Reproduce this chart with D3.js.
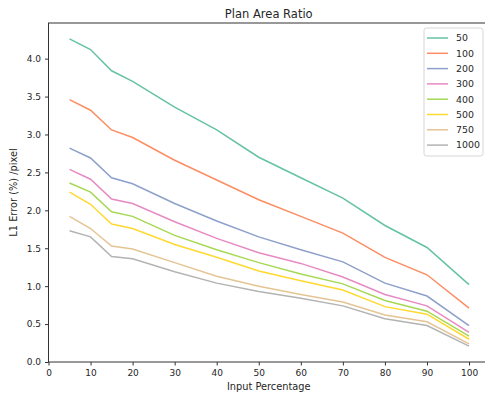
<!DOCTYPE html>
<html lang="en">
<head>
<meta charset="utf-8">
<title>Plan Area Ratio</title>
<script src="https://d3js.org/d3.v7.min.js"></script>
<style>
  body { margin: 0; background: #fff; }
  text { font-family: "DejaVu Sans", sans-serif; fill: #262626; }
</style>
</head>
<body>
<script>
// input percentages (x)
var percents = [5, 10, 15, 20, 30, 40, 50, 60, 70, 80, 90, 100];
var seriesNames = ["50", "100", "200", "300", "400", "500", "750", "1000"];

// L1 error per series
var err50   = [4.26, 4.12, 3.84, 3.70, 3.36, 3.06, 2.70, 2.43, 2.16, 1.80, 1.51, 1.02];
var err100  = [3.46, 3.32, 3.06, 2.96, 2.66, 2.40, 2.14, 1.92, 1.70, 1.38, 1.15, 0.71];
var err200  = [2.82, 2.69, 2.43, 2.35, 2.09, 1.86, 1.65, 1.48, 1.32, 1.04, 0.87, 0.48];
var err300  = [2.54, 2.41, 2.15, 2.09, 1.85, 1.63, 1.44, 1.30, 1.12, 0.89, 0.74, 0.39];
var err400  = [2.36, 2.24, 1.98, 1.92, 1.67, 1.48, 1.31, 1.16, 1.03, 0.81, 0.67, 0.34];
var err500  = [2.24, 2.08, 1.82, 1.76, 1.55, 1.38, 1.20, 1.07, 0.95, 0.73, 0.63, 0.30];
var err750  = [1.92, 1.76, 1.53, 1.49, 1.31, 1.13, 1.00, 0.89, 0.79, 0.62, 0.53, 0.24];
var err1000 = [1.73, 1.65, 1.39, 1.36, 1.19, 1.04, 0.93, 0.84, 0.74, 0.57, 0.48, 0.21];

var xTicks = [0, 10, 20, 30, 40, 50, 60, 70, 80, 90, 100];
var yTicks = [0, 0.5, 1.0, 1.5, 2.0, 2.5, 3.0, 3.5, 4.0];

var allSeries = [err50, err100, err200, err300, err400, err500, err750, err1000];
var colors = ["#66c2a5", "#fc8d62", "#8da0cb", "#e78ac3", "#a6d854", "#ffd92f", "#e5c494", "#b3b3b3"];

var w = 485, h = 394;
var pLeft = 48.5, pRight = 489, pTop = 23, pBottom = 362;

var svg = d3.select("body").append("svg")
    .attr("width", w)
    .attr("height", h);

var x = d3.scaleLinear().domain([0, 104.75]).range([pLeft, pRight]);
var y = d3.scaleLinear().domain([0, 4.47]).range([pBottom, pTop]);

// lines
var line = d3.line()
    .x(function(d, i) { return x(percents[i]); })
    .y(function(d) { return y(d); });

svg.append("g")
  .selectAll("path")
  .data(allSeries)
  .join("path")
    .attr("fill", "none")
    .attr("stroke", function(d, i) { return colors[i]; })
    .attr("stroke-width", 1.5)
    .attr("d", line);

// spines
svg.append("rect")
    .attr("x", pLeft).attr("y", pTop)
    .attr("width", pRight - pLeft).attr("height", pBottom - pTop)
    .attr("fill", "none")
    .attr("stroke", "#333")
    .attr("stroke-width", 1);

// axes
var xAxis = svg.append("g")
    .attr("transform", "translate(0," + pBottom + ")")
    .call(d3.axisBottom(x).tickValues(xTicks).tickSize(3.5).tickPadding(4).tickFormat(d3.format("d")));
var yAxis = svg.append("g")
    .attr("transform", "translate(" + pLeft + ",0)")
    .call(d3.axisLeft(y).tickValues(yTicks).tickSize(3.5).tickPadding(4).tickFormat(d3.format(".1f")));

[xAxis, yAxis].forEach(function(a) {
  a.select(".domain").remove();
  a.selectAll(".tick line").attr("stroke", "#333");
  a.selectAll(".tick text").attr("font-size", "9px").attr("fill", "#262626")
    .style("font-family", "DejaVu Sans, sans-serif");
});

// title and labels
svg.append("text")
    .attr("x", (pLeft + pRight) / 2).attr("y", 17.5)
    .attr("text-anchor", "middle")
    .attr("font-size", "11.5px")
    .text("Plan Area Ratio");

svg.append("text")
    .attr("x", (pLeft + pRight) / 2).attr("y", 390)
    .attr("text-anchor", "middle")
    .attr("font-size", "9.8px")
    .text("Input Percentage");

svg.append("text")
    .attr("transform", "translate(17," + ((pTop + pBottom) / 2) + ") rotate(-90)")
    .attr("text-anchor", "middle")
    .attr("font-size", "9.8px")
    .text("L1 Error (%) /pixel");

// legend
var lg = svg.append("g").attr("transform", "translate(424,28)");
lg.append("rect")
    .attr("width", 59).attr("height", 128)
    .attr("rx", 2.5)
    .attr("fill", "#fff").attr("fill-opacity", 0.8)
    .attr("stroke", "#d6d6d6").attr("stroke-width", 1);

var item = lg.selectAll("g.item")
  .data(seriesNames)
  .join("g")
    .attr("class", "item")
    .attr("transform", function(d, i) { return "translate(0," + (10 + i * 15.3) + ")"; });

item.append("line")
    .attr("x1", 3).attr("x2", 24)
    .attr("stroke", function(d, i) { return colors[i]; })
    .attr("stroke-width", 1.5);

item.append("text")
    .attr("x", 32).attr("y", 3.3)
    .attr("font-size", "9.4px")
    .text(function(d) { return d; });
</script>
</body>
</html>
